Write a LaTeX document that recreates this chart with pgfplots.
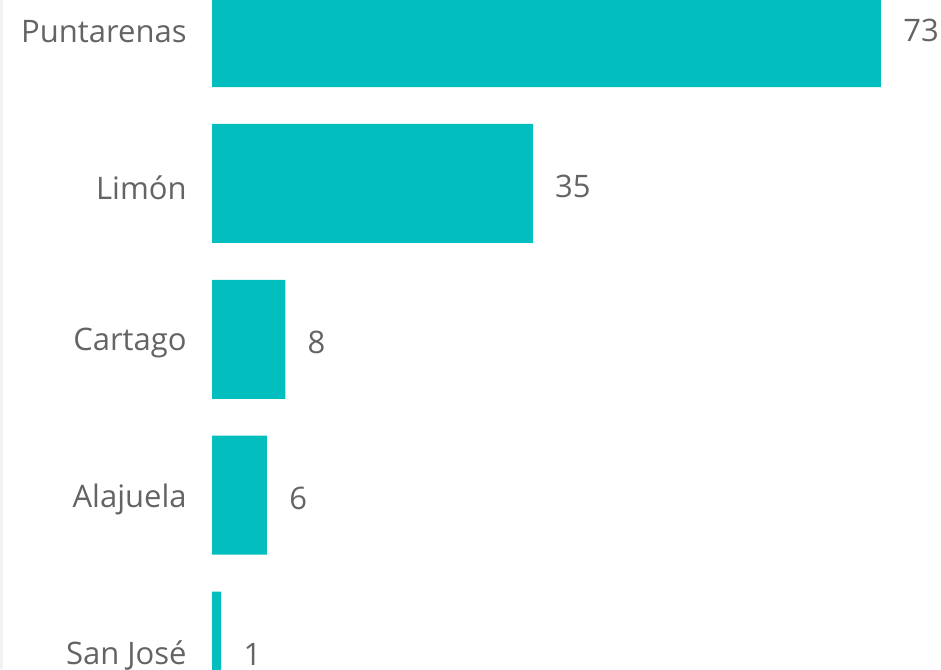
\documentclass[border=0pt]{standalone}
\usepackage{pgfplots}
\pgfplotsset{compat=1.18}
\usepackage{fontspec}
\setmainfont{Open Sans}
\definecolor{barc}{RGB}{2,190,190}
\definecolor{txt}{RGB}{100,100,100}
\begin{document}
\begin{tikzpicture}[x=1pt,y=1pt]
\useasboundingbox (0,0) rectangle (470.5,334.5);
\fill[black!5] (0,0) rectangle (1.5,334.5);
\begin{axis}[
  at={(106pt,0pt)}, anchor=south west,
  scale only axis, width=364.5pt, height=334.5pt,
  xbar, bar width=59.5pt,
  xmin=0, xmax=79.55, ymin=-0.1764, ymax=4.115,
  enlargelimits=false,
  y dir=reverse,
  axis line style={draw=none},
  xtick=\empty,
  ytick={0,1,2,3,4},
  yticklabels={Puntarenas,Limón,Cartago,Alajuela,San José},
  major tick length=0pt,
  tick style={draw=none},
  yticklabel style={font=\fontsize{15.5}{18}\selectfont, text=txt, anchor=east, inner sep=0pt, xshift=-12.5pt, yshift=-2pt},
  nodes near coords,
  nodes near coords style={font=\fontsize{15.5}{18}\selectfont, text=txt, anchor=west, inner sep=0pt, xshift=11pt, yshift=-1.5pt},
  /pgf/number format/assume math mode=true,
]
\addplot[fill=barc, draw=none] coordinates {(73,0) (35,1) (8,2) (6,3) (1,4)};
\end{axis}
\end{tikzpicture}
\end{document}
